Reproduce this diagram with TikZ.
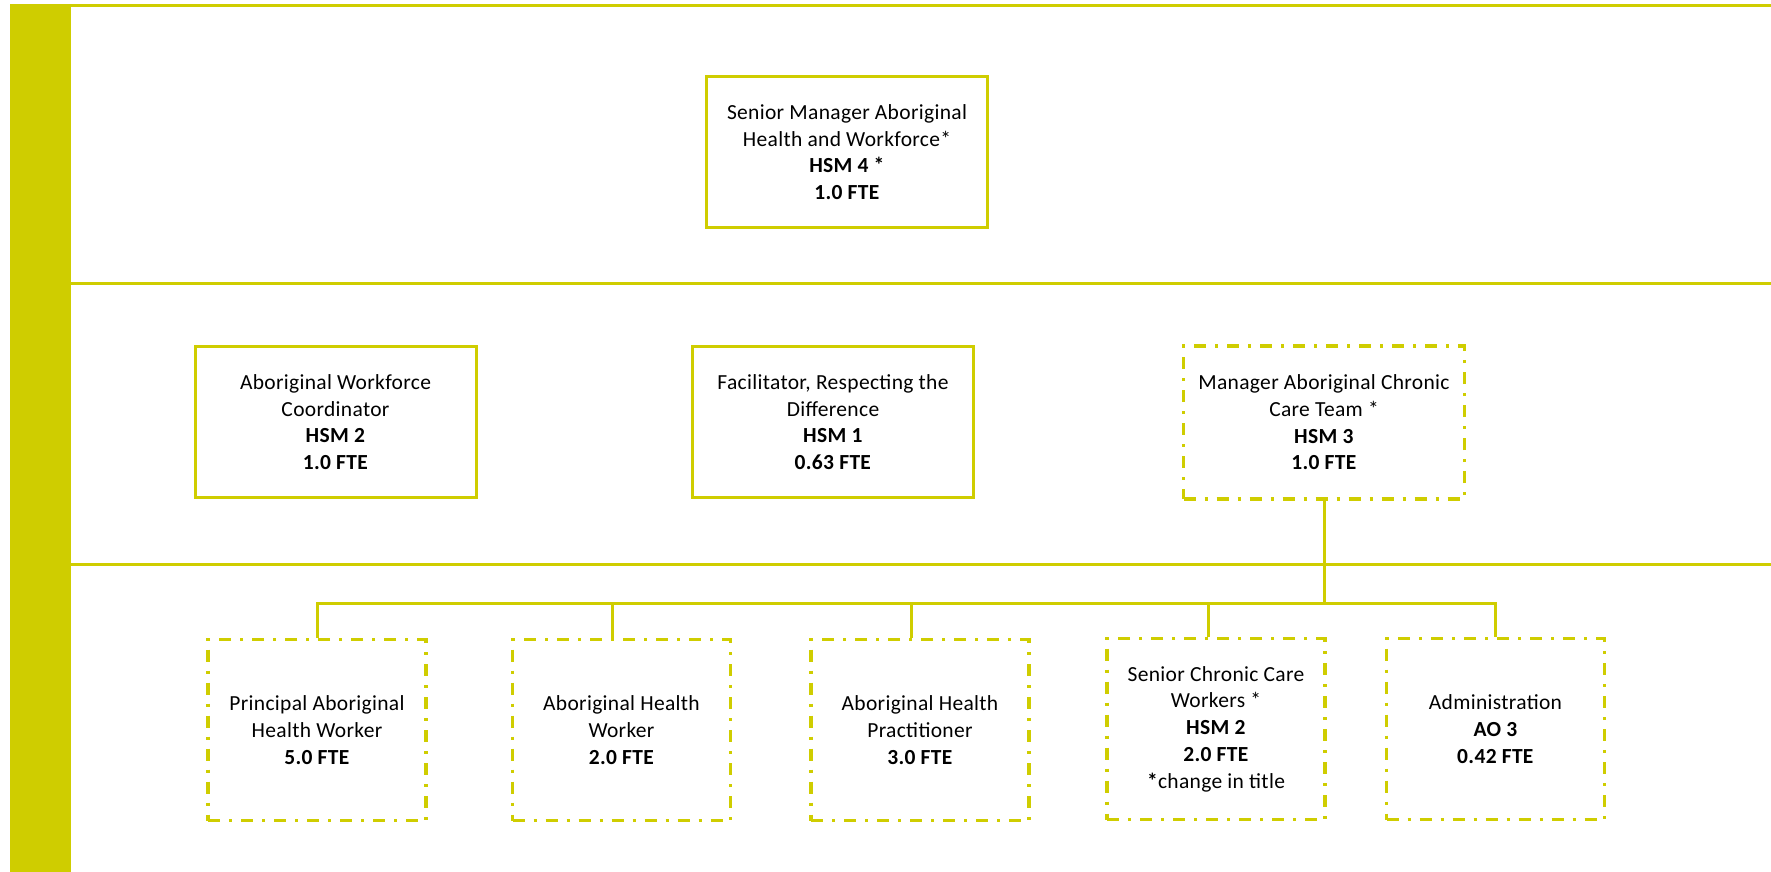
\documentclass[tikz,border=0pt]{standalone}
\usepackage{fontspec}
\setmainfont{Carlito}[LetterSpace=1.5]
\definecolor{bandcol}{RGB}{207,205,0}

\begin{document}
\begin{tikzpicture}[x=1pt,y=-1pt]
			\tikzset{
			  RoleStyle/.style = { draw = bandcol, line width = 3pt, align = center,
			                       inner sep = 0pt, minimum width = 281pt, minimum height = 151pt,
			                       font = \fontsize{21.5}{26.7}\selectfont },
			  VacantStyle/.style = { RoleStyle, line width = 3.5pt,
			                         dash pattern = on 12pt off 9pt on 3pt off 9pt },
			  SmallStyle/.style = { VacantStyle, minimum width = 218pt, minimum height = 181pt },
			  LinkStyle/.style = { draw = bandcol, line width = 3pt } }
			\useasboundingbox (0,0) rectangle (1771,872);
			% side bar and bands
			\fill[bandcol] (10,4) rectangle (71,872);
			\draw[LinkStyle] (71,5.5) -- (1771,5.5);
			\draw[LinkStyle] (71,283.5) -- (1771,283.5);
			\draw[LinkStyle] (71,564.5) -- (1771,564.5);
			% top level
			\node[RoleStyle] (senior) at (847,152) {Senior Manager Aboriginal\\Health and Workforce*\\
			  \textbf{HSM 4 *}\\\textbf{1.0 FTE}};
			% second level
			\node[RoleStyle] (coord) at (335.5,422) {Aboriginal Workforce\\Coordinator\\
			  \textbf{HSM 2}\\\textbf{1.0 FTE}};
			\node[RoleStyle] (facil) at (833,422) {Facilitator, Respecting the\\Difference\\
			  \textbf{HSM 1}\\\textbf{0.63 FTE}};
			\node[VacantStyle, minimum height = 153pt] (mgr) at (1324,422.5) {Manager Aboriginal Chronic\\Care Team *\\
			  \textbf{HSM 3}\\\textbf{1.0 FTE}};
			% chronic care team
			\node[SmallStyle] (pahw) at (317,730) {Principal Aboriginal\\Health Worker\\\textbf{5.0 FTE}};
			\node[SmallStyle] (ahw) at (621.5,730) {Aboriginal Health\\Worker\\\textbf{2.0 FTE}};
			\node[SmallStyle] (ahp) at (920,730) {Aboriginal Health\\Practitioner\\\textbf{3.0 FTE}};
			\node[SmallStyle] (sccw) at (1216,729) {Senior Chronic Care\\Workers *\\\textbf{HSM 2}\\
			  \textbf{2.0 FTE}\\\textbf{*}change in title};
			\node[SmallStyle] (admin) at (1495.5,729) {Administration\\\textbf{AO 3}\\\textbf{0.42 FTE}};
			\coordinate (bus) at (1323,603);
			\draw[LinkStyle] (mgr.south) -- (mgr.south |- bus);
			\draw[LinkStyle] (pahw.north) -- (pahw.north |- bus) -- (admin.north |- bus) -- (admin.north);
			\draw[LinkStyle] ([xshift=-9pt]ahw.north) -- ([xshift=-9pt]ahw.north |- bus);
			\draw[LinkStyle] ([xshift=-9pt]ahp.north) -- ([xshift=-9pt]ahp.north |- bus);
			\draw[LinkStyle] ([xshift=-8pt]sccw.north) -- ([xshift=-8pt]sccw.north |- bus);
\end{tikzpicture}
\end{document}
